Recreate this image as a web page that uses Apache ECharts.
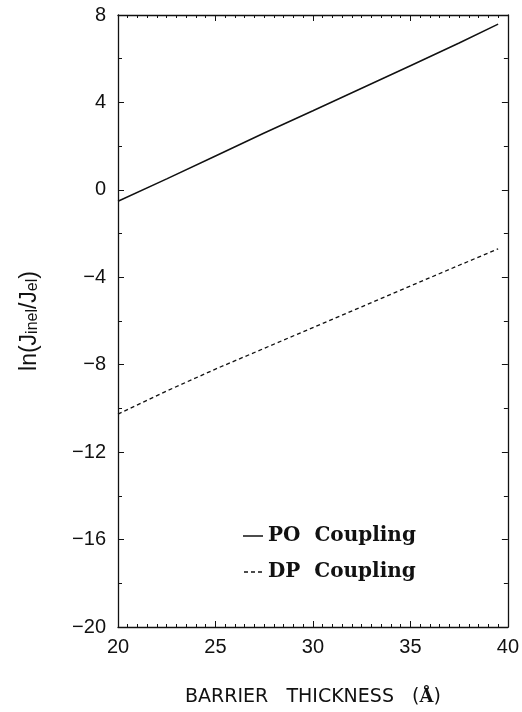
<!DOCTYPE html>
<html><head><meta charset="utf-8">
<script src="https://cdn.jsdelivr.net/npm/echarts@6/dist/echarts.min.js"></script>
<style>html,body{margin:0;padding:0;background:#fff}#c{width:522px;height:712px}</style>
</head><body><div id="c"></div>
<script>
const thickness = [20, 22.5, 25, 27.5, 30, 32.5, 35, 37.5, 39.5];
const poCoupling = [-0.52, 0.5, 1.55, 2.6, 3.62, 4.65, 5.68, 6.72, 7.58];
const dpCoupling = [-10.26, -9.2, -8.2, -7.25, -6.3, -5.35, -4.4, -3.45, -2.7];
const seriesNames = ['PO Coupling', 'DP Coupling'];
const xTicks = [20, 25, 30, 35, 40];
const yTicks = [-20, -16, -12, -8, -4, 0, 4, 8];

const pair = (xs, ys) => xs.map((x, i) => [x, ys[i]]);
const fmt = v => String(v).replace('-', '\u2212');
const tickFont = {fontFamily: 'Liberation Sans', fontSize: 20, color: '#111'};
const axisBase = {
  axisLine: {show: true, onZero: false, lineStyle: {color: '#111', width: 1.3}},
  axisTick: {show: true, inside: true, length: 6, lineStyle: {color: '#111'}},
  splitLine: {show: false}
};
const chart = echarts.init(document.getElementById('c'));
chart.setOption({
  animation: false,
  backgroundColor: '#fff',
  grid: {left: 118, right: 14, top: 15, bottom: 81},
  xAxis: [
    Object.assign({}, axisBase, {
      type: 'value', min: xTicks[0], max: xTicks[xTicks.length - 1], interval: 5, position: 'bottom',
      minorTick: {show: true, splitNumber: 10, length: 3, lineStyle: {color: '#111'}},
      axisLabel: Object.assign({margin: 10, formatter: fmt}, tickFont),
      name: '{t|BARRIER   THICKNESS   (}{a|\u00C5}{t|)}',
      nameLocation: 'middle', nameGap: 61,
      nameTextStyle: {rich: {
        t: {fontFamily: 'DejaVu Sans', fontSize: 19, color: '#111'},
        a: {fontFamily: 'DejaVu Serif', fontSize: 18, fontWeight: 'bold', color: '#111'}
      }}
    }),
    Object.assign({}, axisBase, {
      type: 'value', min: 20, max: 40, interval: 5, position: 'top',
      minorTick: {show: true, splitNumber: 10, length: 3, lineStyle: {color: '#111'}},
      axisLabel: {show: false}
    })
  ],
  yAxis: [
    Object.assign({}, axisBase, {
      type: 'value', min: yTicks[0], max: yTicks[yTicks.length - 1], interval: 4, position: 'left',
      minorTick: {show: true, splitNumber: 2, length: 4, lineStyle: {color: '#111'}},
      axisLabel: Object.assign({margin: 12, formatter: fmt}, tickFont),
      name: '{t|ln(J}{s|inel}{t|/J}{s|el}{t|)}',
      nameLocation: 'middle', nameGap: 77, nameRotate: 90,
      nameTextStyle: {rich: {
        t: {fontFamily: 'Liberation Sans', fontSize: 23, color: '#111', verticalAlign: 'bottom', lineHeight: 28},
        s: {fontFamily: 'Liberation Sans', fontSize: 16, color: '#111', verticalAlign: 'bottom', lineHeight: 17}
      }}
    }),
    Object.assign({}, axisBase, {
      type: 'value', min: -20, max: 8, interval: 4, position: 'right',
      minorTick: {show: true, splitNumber: 2, length: 4, lineStyle: {color: '#111'}},
      axisLabel: {show: false}
    })
  ],
  legend: {
    orient: 'vertical', left: 238, top: 521, itemGap: 16, itemWidth: 20, itemHeight: 1.5,
    data: [
      {name: seriesNames[0], icon: 'path://M0,0h20v1.5h-20z'},
      {name: seriesNames[1], icon: 'path://M0,0h4v1.5h-4zM7,0h4v1.5h-4zM14,0h4v1.5h-4z'}
    ],
    formatter: n => n.replace(' ', '  '),
    itemStyle: {color: '#111'},
    textStyle: {fontFamily: 'DejaVu Serif', fontSize: 20, color: '#111', fontWeight: 'bold', padding: [0, 0, 0, 0]}
  },
  series: [
    {name: seriesNames[0], type: 'line', data: pair(thickness, poCoupling), symbol: 'none',
     lineStyle: {color: '#111', width: 1.5}, itemStyle: {color: '#111'}},
    {name: seriesNames[1], type: 'line', data: pair(thickness, dpCoupling), symbol: 'none',
     lineStyle: {color: '#111', width: 1.3, type: [4, 3]}, itemStyle: {color: '#111'}}
  ]
});
</script></body></html>
